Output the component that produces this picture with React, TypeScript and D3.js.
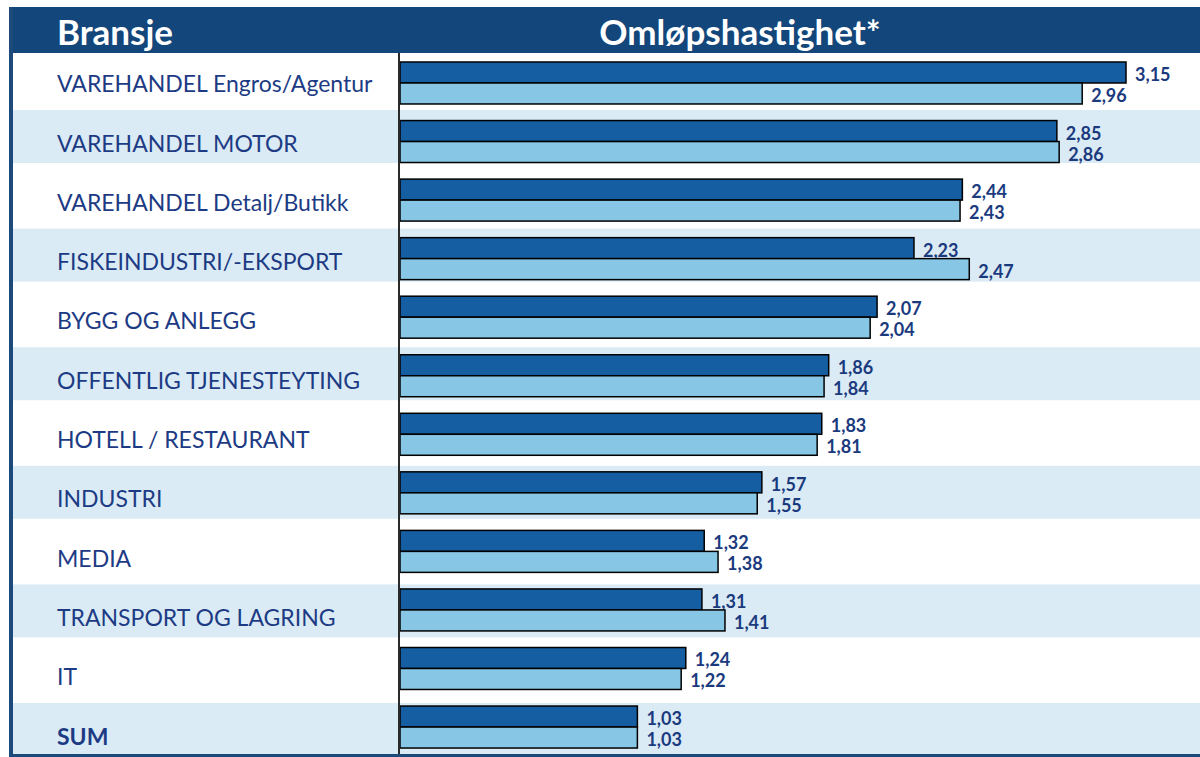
import React, { useRef, useEffect } from 'react'
import * as d3 from 'd3'

const categories = [
  'VAREHANDEL Engros/Agentur',
  'VAREHANDEL MOTOR',
  'VAREHANDEL Detalj/Butikk',
  'FISKEINDUSTRI/-EKSPORT',
  'BYGG OG ANLEGG',
  'OFFENTLIG TJENESTEYTING',
  'HOTELL / RESTAURANT',
  'INDUSTRI',
  'MEDIA',
  'TRANSPORT OG LAGRING',
  'IT',
  'SUM'
]

const seriesA = [3.15, 2.85, 2.44, 2.23, 2.07, 1.86, 1.83, 1.57, 1.32, 1.31, 1.24, 1.03]
const seriesB = [2.96, 2.86, 2.43, 2.47, 2.04, 1.84, 1.81, 1.55, 1.38, 1.41, 1.22, 1.03]

const headerLeft = 'Bransje'
const headerRight = 'Omløpshastighet*'

const W = 1200
const H = 757

export default function App() {
  const svgRef = useRef<SVGSVGElement>(null)

  useEffect(() => {
    if (!svgRef.current) return
    const svg = d3.select(svgRef.current)
    svg.selectAll('*').remove()

    const font = 'Lato, "Noto Sans", sans-serif'
    const navy = '#1d3b84'

    // tabellrader (bakgrunnsbånd)
    const rowScale = d3.scaleBand<string>()
      .domain(categories)
      .range([50.7, 50.7 + categories.length * 59.3])
      .paddingInner(0)

    const rows = svg.append('g')
    categories.forEach((c, i) => {
      const y0 = rowScale(c)!
      if (i % 2 === 1) {
        rows.append('rect')
          .attr('x', 13).attr('y', y0)
          .attr('width', W - 13).attr('height', rowScale.step() - 6.3)
          .attr('fill', '#daebf5')
      }
      rows.append('text')
        .attr('x', 57).attr('y', y0 + 41.5)
        .attr('font-family', font)
        .attr('font-size', 23)
        .attr('font-weight', c === 'SUM' ? 700 : 400)
        .attr('fill', navy)
        .text(c)
    })

    // stolper
    const x = d3.scaleLinear().domain([0, 3.15]).range([400, 1126])
    const p = 0.283
    const step = 58.55
    const start = 62 - p * step
    const y = d3.scaleBand<string>()
      .domain(categories)
      .range([start, start + step * (categories.length + p)])
      .padding(p)
    const bh = y.bandwidth() / 2

    const g = svg.append('g')
    const series = [
      { values: seriesA, fill: '#155ea2', off: 0 },
      { values: seriesB, fill: '#87c6e5', off: bh }
    ]
    series.forEach(s => {
      g.selectAll(null)
        .data(categories)
        .enter()
        .append('rect')
        .attr('x', x(0))
        .attr('y', d => y(d)! + s.off)
        .attr('width', (d, i) => x(s.values[i]) - x(0))
        .attr('height', bh)
        .attr('fill', s.fill)
        .attr('stroke', '#000')
        .attr('stroke-width', 1.5)

      g.selectAll(null)
        .data(categories)
        .enter()
        .append('text')
        .attr('x', (d, i) => x(s.values[i]) + 9)
        .attr('y', d => y(d)! + s.off + bh / 2 + 1.5)
        .attr('dominant-baseline', 'central')
        .attr('font-family', font)
        .attr('font-size', 18)
        .attr('font-weight', 700)
        .attr('fill', '#1b3a7e')
        .text((d, i) => d3.format('.2f')(s.values[i]).replace('.', ','))
    })

    // akselinje
    svg.append('line')
      .attr('x1', 399).attr('x2', 399)
      .attr('y1', 53).attr('y2', 754)
      .attr('stroke', '#2a2a2a')
      .attr('stroke-width', 2)

    // topptekst
    svg.append('rect')
      .attr('x', 9).attr('y', 7)
      .attr('width', W - 9).attr('height', 46)
      .attr('fill', '#13467a')
    svg.append('text')
      .attr('x', 57).attr('y', 45)
      .attr('font-family', font)
      .attr('font-size', 35)
      .attr('font-weight', 700)
      .attr('fill', '#fff')
      .text(headerLeft)
    svg.append('text')
      .attr('x', 740).attr('y', 45)
      .attr('text-anchor', 'middle')
      .attr('font-family', font)
      .attr('font-size', 35)
      .attr('font-weight', 700)
      .attr('fill', '#fff')
      .text(headerRight)

    // ramme
    svg.append('rect')
      .attr('x', 9).attr('y', 7)
      .attr('width', 4).attr('height', H - 7)
      .attr('fill', '#1c4a7a')
    svg.append('rect')
      .attr('x', 9).attr('y', 754)
      .attr('width', W - 9).attr('height', 3)
      .attr('fill', '#1c4a7a')
  }, [])

  return (
    <svg
      ref={svgRef}
      width={W}
      height={H}
      style={{ position: 'absolute', left: 0, top: 0, background: '#fff' }}
    />
  )
}
